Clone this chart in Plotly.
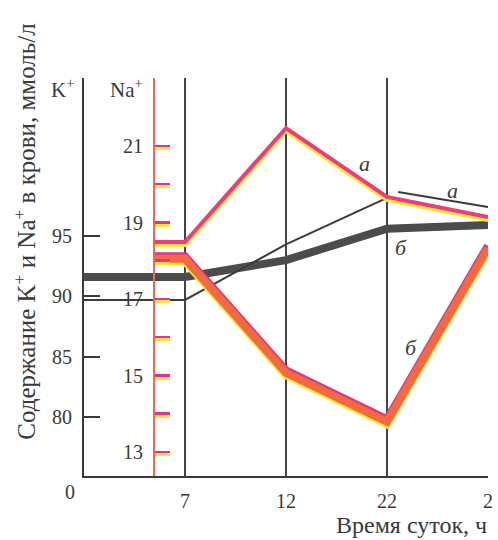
import plotly.graph_objects as go

# Time-of-day ticks (evenly spaced slots), slot 0 is the K+ axis itself
hour_labels = ["7", "12", "22", "2"]
hour_pos = [1, 2, 3, 4]

# Na+ axis sits between the K+ axis and the 7 o'clock line
NA_AXIS_POS = 0.694

# K+ (mmol/l), left scale
k_a_x = [0, 1, 2, 3, None, 3.11, 4]
k_a = [89.7, 89.7, 94.3, 98.15, None, 98.65, 97.4]
k_b_x = [0, 1, 2, 3, 4]
k_b = [91.6, 91.6, 93.0, 95.6, 95.9]

# Na+ (mmol/l), inner red scale
na_x = [NA_AXIS_POS, 1, 2, 3, 4]
na_a = [18.49, 18.49, 21.47, 19.67, 19.14]
na_b = [18.05, 18.05, 15.07, 13.79, 18.33]

k_ticks = [80, 85, 90, 95]
na_labels = [13, 15, 17, 19, 21]
na_minor = [14, 16, 18, 20]

K_RANGE = [75.11, 108.09]
NA_RANGE = [12.373, 22.778]
PLOT_H = 398
na_px = (NA_RANGE[1] - NA_RANGE[0]) / PLOT_H  # Na units per pixel

INK = "#3a3a3a"
SERIF = "Liberation Serif"
ORANGE = "#f26a3e"
PINK = "#ee3c7c"
MAGENTA = "#e2338e"
YELLOW = "#f4e63a"


def shifted(vals, px):
    return [v + px * na_px for v in vals]


fig = go.Figure()

# K+ curves
fig.add_trace(go.Scatter(x=k_b_x, y=k_b, mode="lines",
                         line=dict(color="#4c4c4c", width=8),
                         yaxis="y", hoverinfo="skip"))
fig.add_trace(go.Scatter(x=k_a_x, y=k_a, mode="lines",
                         line=dict(color="#3c3c3c", width=2),
                         yaxis="y", hoverinfo="skip", connectgaps=False))

# Na+ curve б: thick orange band with magenta / yellow fringes
fig.add_trace(go.Scatter(x=na_x, y=shifted(na_b, 2.5), mode="lines",
                         line=dict(color=MAGENTA, width=8), yaxis="y2", hoverinfo="skip"))
fig.add_trace(go.Scatter(x=na_x, y=shifted(na_b, -2.5), mode="lines",
                         line=dict(color=YELLOW, width=8), yaxis="y2", hoverinfo="skip"))
fig.add_trace(go.Scatter(x=na_x, y=na_b, mode="lines",
                         line=dict(color=ORANGE, width=8), yaxis="y2", hoverinfo="skip"))

# Na+ curve а: pink line with a yellow fringe below
fig.add_trace(go.Scatter(x=na_x, y=shifted(na_a, -3), mode="lines",
                         line=dict(color=YELLOW, width=4), yaxis="y2", hoverinfo="skip"))
fig.add_trace(go.Scatter(x=na_x, y=na_a, mode="lines",
                         line=dict(color=PINK, width=4), yaxis="y2", hoverinfo="skip"))

# Hidden carrier for the yellow tick fringe axis
fig.add_trace(go.Scatter(x=[None], y=[None], yaxis="y3", hoverinfo="skip"))

tickfont = dict(family=SERIF, size=20, color=INK)

na_tick_style = dict(ticks="inside", ticklen=15, tickwidth=2.5)

fig.update_layout(
    width=498, height=540,
    margin=dict(l=84, r=5, t=78, b=64, pad=0),
    paper_bgcolor="white", plot_bgcolor="white",
    showlegend=False,
    xaxis=dict(range=[0, 4], tickvals=hour_pos, ticktext=hour_labels,
               showline=True, linecolor=INK, linewidth=2,
               showgrid=True, gridcolor="#444444", gridwidth=1.5,
               zeroline=False, ticks="", tickfont=tickfont,
               ticklabelstandoff=6, fixedrange=True),
    yaxis=dict(range=K_RANGE, tickvals=k_ticks, showline=True,
               linecolor=INK, linewidth=2, ticks="inside", ticklen=16,
               tickwidth=2, tickcolor=INK, showgrid=False, zeroline=False,
               tickfont=tickfont, ticklabelstandoff=6),
    yaxis2=dict(range=NA_RANGE, overlaying="y", anchor="free",
                position=NA_AXIS_POS / 4, side="left",
                tickvals=na_labels,
                showline=True, linecolor="#ef6a4c", linewidth=2,
                tickcolor=MAGENTA, **na_tick_style,
                minor=dict(tickmode="array", tickvals=na_minor,
                           tickcolor=MAGENTA, **na_tick_style),
                showgrid=False, zeroline=False, tickfont=tickfont,
                ticklabelstandoff=6),
    yaxis3=dict(range=shifted(NA_RANGE, 2.5), overlaying="y", anchor="free",
                position=NA_AXIS_POS / 4, side="left",
                tickvals=na_labels, showticklabels=False, showline=False,
                tickcolor=YELLOW, **na_tick_style,
                minor=dict(tickmode="array", tickvals=na_minor,
                           tickcolor=YELLOW, **na_tick_style),
                showgrid=False, zeroline=False),
)


def px_x(px):
    return (px - 84) / 409


def px_y(px):
    return (476 - px) / 398


ann = [
    dict(text="K<sup>+</sup>", x=px_x(62), y=px_y(88), size=21),
    dict(text="Na<sup>+</sup>", x=px_x(127), y=px_y(88), size=21),
    dict(text="0", x=px_x(70), y=px_y(492), size=20),
]
for a in ann:
    fig.add_annotation(text=a["text"], x=a["x"], y=a["y"], xref="paper", yref="paper",
                       showarrow=False, xanchor="center", yanchor="middle",
                       font=dict(family=SERIF, size=a["size"], color=INK))

fig.add_annotation(text="Время суток, ч", x=px_x(494), y=px_y(525),
                   xref="paper", yref="paper", showarrow=False,
                   xanchor="right", yanchor="middle",
                   font=dict(family=SERIF, size=24, color=INK))

fig.add_annotation(text="Содержание K<sup>+</sup> и Na<sup>+</sup> в крови, ммоль/л",
                   x=px_x(24), y=px_y(442), xref="paper", yref="paper",
                   showarrow=False, textangle=-90, xanchor="center", yanchor="bottom",
                   font=dict(family=SERIF, size=25, color=INK))

# Curve letters
for txt, xp, yp in [("а", 368, 163), ("а", 457, 190), ("б", 405, 247), ("б", 415, 347)]:
    fig.add_annotation(text=f"<i>{txt}</i>", x=px_x(xp), y=px_y(yp),
                       xref="paper", yref="paper", showarrow=False,
                       xanchor="center", yanchor="middle",
                       font=dict(family=SERIF, size=22, color=INK))

fig.write_html("out.html")
